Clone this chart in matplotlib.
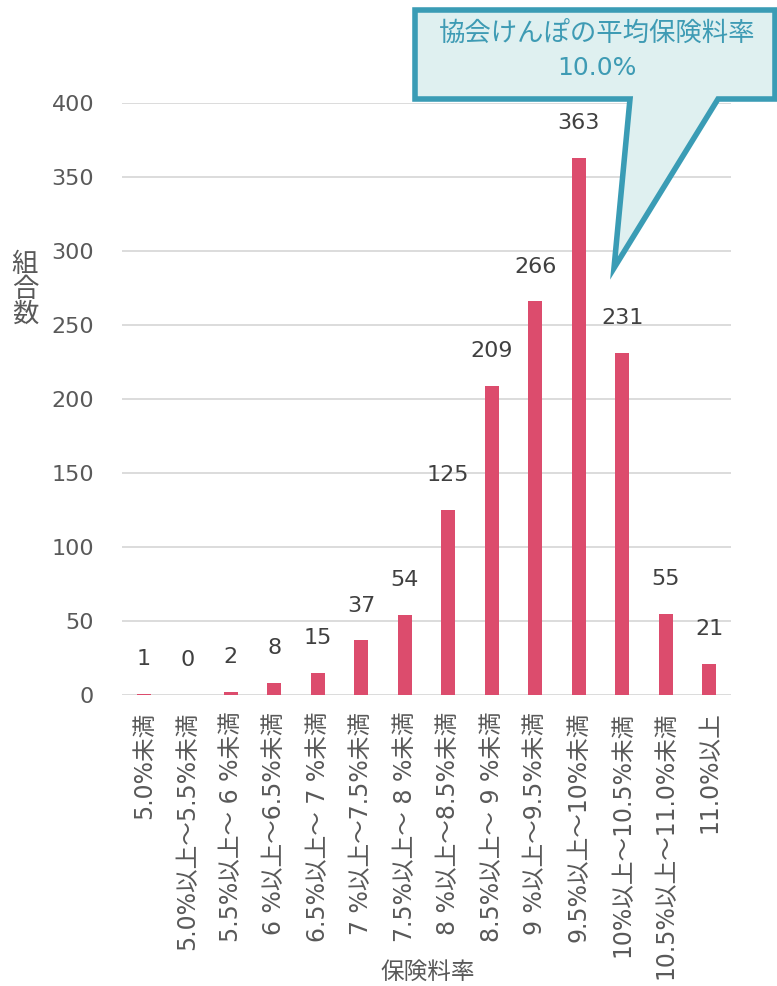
import matplotlib
matplotlib.use("Agg")
import matplotlib.pyplot as plt
from matplotlib.patches import Polygon

plt.rcParams['font.family'] = ['DejaVu Sans', 'Noto Sans CJK JP']

categories = ["5.0%未満", "5.0%以上～5.5%未満", "5.5%以上～ 6 %未満", "6 %以上～6.5%未満",
              "6.5%以上～ 7 %未満", "7 %以上～7.5%未満", "7.5%以上～ 8 %未満", "8 %以上～8.5%未満",
              "8.5%以上～ 9 %未満", "9 %以上～9.5%未満", "9.5%以上～10%未満", "10%以上～10.5%未満",
              "10.5%以上～11.0%未満", "11.0%以上"]
counts = [1, 0, 2, 8, 15, 37, 54, 125, 209, 266, 363, 231, 55, 21]
yticks = [0, 50, 100, 150, 200, 250, 300, 350, 400]

W, H = 777, 986
fig = plt.figure(figsize=(W / 100, H / 100), dpi=100)
ax = fig.add_axes([122 / W, 1 - 695 / H, (731 - 122) / W, (695 - 103) / H])

x = list(range(len(categories)))
ax.bar(x, counts, width=0.32, color="#DC4C6D", zorder=3)
for xi, v in zip(x, counts):
    ax.annotate(str(v), (xi, v), xytext=(0, 25), textcoords="offset points",
                ha="center", va="center", fontsize=16, color="#404040")

ax.set_xlim(-0.5, len(categories) - 0.5)
ax.set_ylim(0, 400)
ax.set_yticks(yticks)
ax.set_yticklabels([str(t) for t in yticks], fontsize=16, color="#595959")
ax.set_xticks(x)
ax.set_xticklabels(categories, rotation=90, fontsize=17, color="#595959", va="top", ha="center")
ax.tick_params(axis="both", length=0)
ax.tick_params(axis="y", pad=20)
ax.tick_params(axis="x", pad=12)
ax.grid(axis="y", color="#D9D9D9", linewidth=1.3, zorder=0)
for s in ax.spines.values():
    s.set_visible(False)

fig.text(25 / W, 1 - 290 / H, "組\n合\n数", fontsize=19, color="#595959",
         ha="center", va="center", linespacing=0.95)
fig.text(428 / W, 1 - 972 / H, "保険料率", fontsize=17, color="#595959",
         ha="center", va="center")

# callout
pts = [(415, 10), (775, 10), (775, 99), (718, 99), (614, 268), (630, 99), (415, 99)]
poly = Polygon([(px / W, 1 - py / H) for px, py in pts], closed=True,
               transform=fig.transFigure, facecolor="#DFF0F0", edgecolor="#3A9CB5",
               linewidth=4, joinstyle="miter", zorder=10)
fig.patches.append(poly)
fig.text(597 / W, 1 - 34 / H, "協会けんぽの平均保険料率", fontsize=19, color="#3E9BB4",
         ha="center", va="center", zorder=11)
fig.text(597 / W, 1 - 68 / H, "10.0%", fontsize=18, color="#3E9BB4",
         ha="center", va="center", zorder=11)

fig.savefig("out.png", dpi=100)
